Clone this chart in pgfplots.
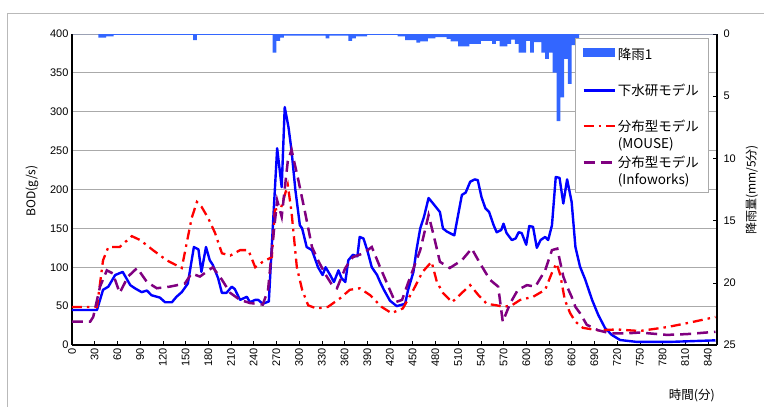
\documentclass[border=0pt]{standalone}
\usepackage{fontspec}
\setmainfont{Liberation Sans}
\newfontfamily\jp{Noto Sans CJK JP}
\usepackage{pgfplots}
\pgfplotsset{compat=1.18}
\definecolor{rainblue}{RGB}{51,102,255}
\definecolor{modelblue}{RGB}{0,0,255}
\definecolor{modelred}{RGB}{255,0,0}
\definecolor{modelpurple}{RGB}{128,0,128}
\definecolor{gridgray}{RGB}{170,170,170}
\begin{document}
\begin{tikzpicture}
\useasboundingbox (0,0) rectangle (764pt,407pt);
\draw[gray!55, line width=0.8pt] (7pt,0pt) -- (7pt,394pt) -- (764pt,394pt);
\begin{axis}[
  at={(72pt,62pt)}, anchor=south west,
  scale only axis, width=645pt, height=311pt,
  xmin=0, xmax=852, ymin=0, ymax=400,
  xtick={0,30,...,840}, ytick={0,50,...,400},
  ymajorgrids, grid style={gridgray, line width=0.8pt},
  axis x line*=bottom, axis y line*=left,
  axis line style={black, line width=1.1pt},
  tick align=inside, major tick length=4pt,
  xtick style={black, line width=0.5pt},
  ytick style={draw=none},
  /pgf/number format/assume math mode=true,
  tick label style={font=\fontsize{11}{11}\selectfont},
  xticklabel style={rotate=90, anchor=east, xshift=0pt},
  yticklabel style={anchor=east},
  ylabel={\jp BOD(g/s)},
  ylabel style={at={(axis description cs:-0.062,0.495)}, anchor=center, rotate=0, font=\fontsize{12}{12}\selectfont},
  xlabel={\jp 時間(分)},
  xlabel style={at={(axis description cs:0.961,-0.161)}, anchor=center, font=\fontsize{12.5}{12.5}\selectfont},
  clip=false,
]
% 下水研モデル
\addplot[modelblue, line width=2.4pt, line join=round] coordinates {
(0,45)(33,45)(41,71)(48,75)(57,90)(67,94)(77,77)(83,73)(92,68)(99,70)(105,64)(116,61)(123,55)(132,55)(138,62)(145,68)(153,79)(161,126)(167,123)(171,94)(177,126)(182,109)(186,103)(193,86)(198,67)(204,67)(211,75)(215,72)(222,58)(231,62)(235,55)(242,58)(246,58)(252,53)(260,56)(266,165)(271,253)(277,203)(281,306)(286,280)(290,250)(295,200)(301,154)(304,150)(310,126)(317,122)(325,100)(331,90)(335,100)(341,90)(346,81)(352,96)(356,86)(361,81)(365,109)(371,116)(377,114)(380,139)(385,137)(390,122)(396,100)(403,90)(407,81)(412,71)(420,57)(429,50)(440,53)(444,71)(451,94)(455,122)(460,150)(465,165)(471,189)(477,182)(486,171)(490,150)(495,146)(505,141)(510,167)(515,193)(520,196)(526,210)(532,213)(536,212)(541,190)(546,176)(551,171)(557,154)(561,145)(567,148)(570,156)(574,144)(581,135)(586,137)(590,145)(594,144)(600,129)(604,153)(609,152)(614,125)(619,135)(625,139)(629,135)(634,154)(639,216)(644,215)(649,182)(654,213)(660,184)(665,126)(671,101)(678,84)(687,58)(695,39)(704,22)(713,13)(724,6.4)(746,4)(790,4)(850,6)
};
% MOUSE
\addplot[modelred, line width=2.3pt, dash pattern=on 10pt off 5pt on 2.5pt off 5pt] coordinates {
(0,49)(33,49)(41,109)(48,126)(63,126)(79,140)(90,135)(107,122)(125,109)(145,99)(158,163)(165,184)(171,178)(180,163)(189,144)(198,118)(209,115)(222,122)(233,122)(242,100)(252,107)(264,113)(268,174)(276,176)(285,206)(290,171)(297,100)(304,71)(312,51)(323,47)(338,49)(354,60)(367,71)(380,73)(394,64)(409,49)(422,41)(437,47)(451,71)(463,94)(475,107)(482,81)(490,67)(502,55)(515,67)(526,77)(537,64)(548,53)(561,51)(570,49)(581,51)(592,58)(609,62)(625,71)(634,93)(640,105)(645,90)(651,58)(658,41)(665,30)(675,22)(695,19)(720,20)(750,18)(786,23)(812,28)(850,36)
};
% Infoworks
\addplot[modelpurple, line width=2.5pt, dash pattern=on 11pt off 6pt] coordinates {
(0,30)(24,30)(28,36)(37,75)(46,96)(54,92)(63,67)(74,88)(86,99)(99,81)(112,73)(129,75)(149,79)(158,92)(169,88)(186,100)(198,84)(209,67)(222,58)(235,54)(252,52)(259,71)(264,122)(271,186)(277,165)(285,236)(290,251)(299,212)(308,170)(317,126)(325,109)(334,92)(345,75)(350,73)(361,99)(371,113)(385,118)(396,126)(407,100)(418,75)(427,55)(436,58)(444,80)(460,122)(471,167)(477,144)(486,107)(499,99)(515,109)(528,124)(539,105)(552,84)(563,75)(569,30)(579,54)(589,71)(601,77)(612,75)(625,96)(634,122)(641,124)(649,88)(654,75)(660,62)(665,49)(671,41)(680,26)(695,19)(711,15)(733,15)(750,16)(786,13)(812,14)(850,17)
};
\end{axis}
\begin{axis}[
  at={(72pt,62pt)}, anchor=south west,
  scale only axis, width=645pt, height=311pt,
  xmin=0, xmax=852, ymin=0, ymax=25, y dir=reverse,
  axis x line=none, axis y line*=right,
  axis line style={black, line width=1.1pt},
  ytick={0,5,...,25},
  tick align=inside, major tick length=4pt,
  ytick style={black, line width=0.5pt},
  /pgf/number format/assume math mode=true,
  tick label style={font=\fontsize{11}{11}\selectfont},
  yticklabel style={anchor=west, xshift=3pt},
  ylabel={\jp 降雨量(mm/5分)},
  ylabel style={at={(axis description cs:1.054,0.498)}, anchor=center, font=\fontsize{12}{12}\selectfont},
  clip=false,
  legend cell align=left,
  legend style={at={(axis description cs:0.780,0.987)}, anchor=north west,
    draw=gridgray, fill=white, line width=0.6pt,
    font=\jp\fontsize{13.5}{17}\selectfont,
    cells={align=left},
    inner xsep=7pt, inner ysep=4pt, row sep=2pt},
  legend image code/.code={\draw[#1] (0pt,8.5pt) -- (31pt,8.5pt);},
]
\addplot[draw=none, fill=rainblue, const plot, forget plot] coordinates {
(0,0)(35,0.3)(45,0.2)(55,0.08)(160,0.5)(165,0.08)(265,1.5)(270,0.55)(275,0.3)(280,0.13)(335,0.35)(340,0.13)(365,0.55)(370,0.35)(375,0.2)(390,0.08)(430,0.2)(440,0.5)(455,0.7)(460,0.6)(470,0.35)(480,0.25)(495,0.4)(500,0.6)(510,1.0)(525,0.8)(540,0.55)(555,0.8)(560,0.55)(565,1.0)(575,0.8)(580,0.45)(585,0.8)(590,1.5)(600,0.55)(605,1.5)(610,0.65)(620,1.5)(625,2.0)(630,1.5)(635,3.1)(640,7.0)(645,5.1)(650,2.0)(655,4.0)(660,0.9)(665,0.55)(670,0)(852,0)
} \closedcycle;
\addlegendimage{legend image code/.code={\fill[rainblue] (0pt,4.5pt) rectangle (31pt,12.5pt);}}
\addlegendentry{\rule{0pt}{15pt}降雨1\\\strut}
\addlegendimage{modelblue, line width=2.4pt}
\addlegendentry{下水研モデル\\\strut}
\addlegendimage{modelred, line width=2.3pt, dash pattern=on 10pt off 5pt on 2.5pt off 5pt}
\addlegendentry{分布型モデル\\(MOUSE)}
\addlegendimage{modelpurple, line width=2.5pt, dash pattern=on 11pt off 6pt}
\addlegendentry{分布型モデル\\(Infoworks)}
\end{axis}
\end{tikzpicture}
\end{document}
